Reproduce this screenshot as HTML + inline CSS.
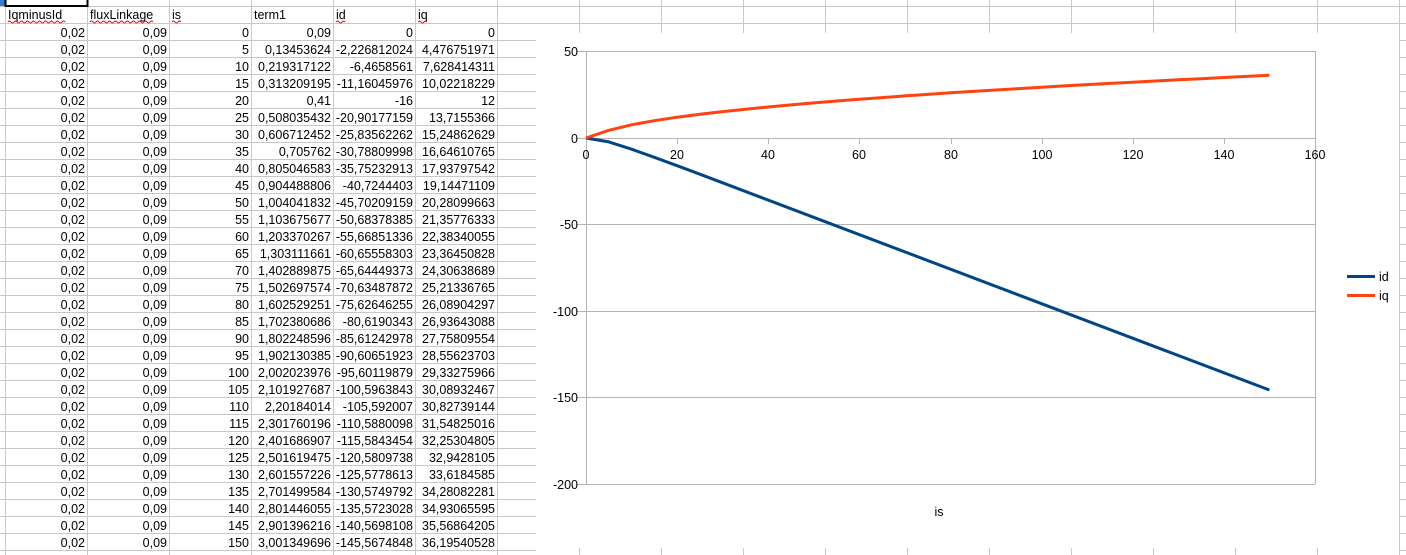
<!DOCTYPE html>
<html><head><meta charset="utf-8"><style>
html,body{margin:0;padding:0;background:#fff;width:1406px;height:555px;overflow:hidden}
svg{display:block;font-family:"Liberation Sans",sans-serif}
</style></head><body>
<svg width="1406" height="555" viewBox="0 0 1406 555" xmlns="http://www.w3.org/2000/svg">
<rect width="1406" height="555" fill="#fff"/>
<g stroke="#c8c8c8" stroke-width="1">
<path d="M0 6.5H1406M0 23.5H1406M0 40.5H536M0 57.5H536M0 74.5H536M0 91.5H536M0 108.5H536M0 125.5H536M0 142.5H536M0 159.5H536M0 176.5H536M0 193.5H536M0 210.5H536M0 227.5H536M0 244.5H536M0 261.5H536M0 278.5H536M0 295.5H536M0 312.5H536M0 329.5H536M0 346.5H536M0 363.5H536M0 380.5H536M0 397.5H536M0 414.5H536M0 431.5H536M0 448.5H536M0 465.5H536M0 482.5H536M0 499.5H536M0 516.5H536M0 533.5H536M0 550.5H536"/>
<path d="M5.5 0V555M87.5 0V555M169.5 0V555M251.5 0V555M333.5 0V555M415.5 0V555M497.5 0V555M579.5 0V33M661.5 0V33M743.5 0V33M825.5 0V33M907.5 0V33M989.5 0V33M1071.5 0V33M1153.5 0V33M1235.5 0V33M1317.5 0V33M1399.5 0V555"/>
<path d="M579.5 548V555M661.5 548V555M743.5 548V555M825.5 548V555M907.5 548V555M989.5 548V555M1071.5 548V555M1153.5 548V555M1235.5 548V555M1317.5 548V555"/>
</g>
<rect x="0" y="0" width="5" height="6" fill="#3b78d8"/>
<rect x="5.5" y="-1" width="82" height="7" fill="none" stroke="#000" stroke-width="2"/>
<g font-size="12.5" fill="#000">
<text x="8" y="19">IqminusId</text><text x="90" y="19">fluxLinkage</text><text x="172" y="19">is</text><text x="254" y="19">term1</text><text x="336" y="19">id</text><text x="418" y="19">iq</text>
</g>
<g stroke="#e00" stroke-width="1" fill="none">
<path d="M8 22 q1.5 -2 3 0 t3 0 t3 0 t3 0 t3 0 t3 0 t3 0 t3 0 t3 0 t3 0 t3 0 t3 0 t3 0 t3 0 t3 0 t3 0 t3 0 t3 0 t3 0"/>
<path d="M90 22 q1.5 -2 3 0 t3 0 t3 0 t3 0 t3 0 t3 0 t3 0 t3 0 t3 0 t3 0 t3 0 t3 0 t3 0 t3 0 t3 0 t3 0 t3 0 t3 0 t3 0 t3 0 t3 0"/>
<path d="M172 22 q1.5 -2 3 0 t3 0 t3 0"/>
<path d="M336 22 q1.5 -2 3 0 t3 0 t3 0"/>
<path d="M418 22 q1.5 -2 3 0 t3 0 t3 0"/>
</g>
<g font-size="12.5" fill="#000" text-anchor="end">
<g transform="translate(0,37)"><text x="85">0,02</text><text x="167">0,09</text><text x="249">0</text><text x="331">0,09</text><text x="413">0</text><text x="495">0</text></g>
<g transform="translate(0,54)"><text x="85">0,02</text><text x="167">0,09</text><text x="249">5</text><text x="331">0,13453624</text><text x="413">-2,226812024</text><text x="495">4,476751971</text></g>
<g transform="translate(0,71)"><text x="85">0,02</text><text x="167">0,09</text><text x="249">10</text><text x="331">0,219317122</text><text x="413">-6,4658561</text><text x="495">7,628414311</text></g>
<g transform="translate(0,88)"><text x="85">0,02</text><text x="167">0,09</text><text x="249">15</text><text x="331">0,313209195</text><text x="413">-11,16045976</text><text x="495">10,02218229</text></g>
<g transform="translate(0,105)"><text x="85">0,02</text><text x="167">0,09</text><text x="249">20</text><text x="331">0,41</text><text x="413">-16</text><text x="495">12</text></g>
<g transform="translate(0,122)"><text x="85">0,02</text><text x="167">0,09</text><text x="249">25</text><text x="331">0,508035432</text><text x="413">-20,90177159</text><text x="495">13,7155366</text></g>
<g transform="translate(0,139)"><text x="85">0,02</text><text x="167">0,09</text><text x="249">30</text><text x="331">0,606712452</text><text x="413">-25,83562262</text><text x="495">15,24862629</text></g>
<g transform="translate(0,156)"><text x="85">0,02</text><text x="167">0,09</text><text x="249">35</text><text x="331">0,705762</text><text x="413">-30,78809998</text><text x="495">16,64610765</text></g>
<g transform="translate(0,173)"><text x="85">0,02</text><text x="167">0,09</text><text x="249">40</text><text x="331">0,805046583</text><text x="413">-35,75232913</text><text x="495">17,93797542</text></g>
<g transform="translate(0,190)"><text x="85">0,02</text><text x="167">0,09</text><text x="249">45</text><text x="331">0,904488806</text><text x="413">-40,7244403</text><text x="495">19,14471109</text></g>
<g transform="translate(0,207)"><text x="85">0,02</text><text x="167">0,09</text><text x="249">50</text><text x="331">1,004041832</text><text x="413">-45,70209159</text><text x="495">20,28099663</text></g>
<g transform="translate(0,224)"><text x="85">0,02</text><text x="167">0,09</text><text x="249">55</text><text x="331">1,103675677</text><text x="413">-50,68378385</text><text x="495">21,35776333</text></g>
<g transform="translate(0,241)"><text x="85">0,02</text><text x="167">0,09</text><text x="249">60</text><text x="331">1,203370267</text><text x="413">-55,66851336</text><text x="495">22,38340055</text></g>
<g transform="translate(0,258)"><text x="85">0,02</text><text x="167">0,09</text><text x="249">65</text><text x="331">1,303111661</text><text x="413">-60,65558303</text><text x="495">23,36450828</text></g>
<g transform="translate(0,275)"><text x="85">0,02</text><text x="167">0,09</text><text x="249">70</text><text x="331">1,402889875</text><text x="413">-65,64449373</text><text x="495">24,30638689</text></g>
<g transform="translate(0,292)"><text x="85">0,02</text><text x="167">0,09</text><text x="249">75</text><text x="331">1,502697574</text><text x="413">-70,63487872</text><text x="495">25,21336765</text></g>
<g transform="translate(0,309)"><text x="85">0,02</text><text x="167">0,09</text><text x="249">80</text><text x="331">1,602529251</text><text x="413">-75,62646255</text><text x="495">26,08904297</text></g>
<g transform="translate(0,326)"><text x="85">0,02</text><text x="167">0,09</text><text x="249">85</text><text x="331">1,702380686</text><text x="413">-80,6190343</text><text x="495">26,93643088</text></g>
<g transform="translate(0,343)"><text x="85">0,02</text><text x="167">0,09</text><text x="249">90</text><text x="331">1,802248596</text><text x="413">-85,61242978</text><text x="495">27,75809554</text></g>
<g transform="translate(0,360)"><text x="85">0,02</text><text x="167">0,09</text><text x="249">95</text><text x="331">1,902130385</text><text x="413">-90,60651923</text><text x="495">28,55623703</text></g>
<g transform="translate(0,377)"><text x="85">0,02</text><text x="167">0,09</text><text x="249">100</text><text x="331">2,002023976</text><text x="413">-95,60119879</text><text x="495">29,33275966</text></g>
<g transform="translate(0,394)"><text x="85">0,02</text><text x="167">0,09</text><text x="249">105</text><text x="331">2,101927687</text><text x="413">-100,5963843</text><text x="495">30,08932467</text></g>
<g transform="translate(0,411)"><text x="85">0,02</text><text x="167">0,09</text><text x="249">110</text><text x="331">2,20184014</text><text x="413">-105,592007</text><text x="495">30,82739144</text></g>
<g transform="translate(0,428)"><text x="85">0,02</text><text x="167">0,09</text><text x="249">115</text><text x="331">2,301760196</text><text x="413">-110,5880098</text><text x="495">31,54825016</text></g>
<g transform="translate(0,445)"><text x="85">0,02</text><text x="167">0,09</text><text x="249">120</text><text x="331">2,401686907</text><text x="413">-115,5843454</text><text x="495">32,25304805</text></g>
<g transform="translate(0,462)"><text x="85">0,02</text><text x="167">0,09</text><text x="249">125</text><text x="331">2,501619475</text><text x="413">-120,5809738</text><text x="495">32,9428105</text></g>
<g transform="translate(0,479)"><text x="85">0,02</text><text x="167">0,09</text><text x="249">130</text><text x="331">2,601557226</text><text x="413">-125,5778613</text><text x="495">33,6184585</text></g>
<g transform="translate(0,496)"><text x="85">0,02</text><text x="167">0,09</text><text x="249">135</text><text x="331">2,701499584</text><text x="413">-130,5749792</text><text x="495">34,28082281</text></g>
<g transform="translate(0,513)"><text x="85">0,02</text><text x="167">0,09</text><text x="249">140</text><text x="331">2,801446055</text><text x="413">-135,5723028</text><text x="495">34,93065595</text></g>
<g transform="translate(0,530)"><text x="85">0,02</text><text x="167">0,09</text><text x="249">145</text><text x="331">2,901396216</text><text x="413">-140,5698108</text><text x="495">35,56864205</text></g>
<g transform="translate(0,547)"><text x="85">0,02</text><text x="167">0,09</text><text x="249">150</text><text x="331">3,001349696</text><text x="413">-145,5674848</text><text x="495">36,19540528</text></g>
</g>
<g stroke="#c8c8c8"><path d="M1400 40.5H1406M1400 57.5H1406M1400 74.5H1406M1400 91.5H1406M1400 108.5H1406M1400 125.5H1406M1400 142.5H1406M1400 159.5H1406M1400 176.5H1406M1400 193.5H1406M1400 210.5H1406M1400 227.5H1406M1400 244.5H1406M1400 261.5H1406M1400 278.5H1406M1400 295.5H1406M1400 312.5H1406M1400 329.5H1406M1400 346.5H1406M1400 363.5H1406M1400 380.5H1406M1400 397.5H1406M1400 414.5H1406M1400 431.5H1406M1400 448.5H1406M1400 465.5H1406M1400 482.5H1406M1400 499.5H1406M1400 516.5H1406M1400 533.5H1406M1400 550.5H1406"/></g>
<g stroke="#b3b3b3" stroke-width="1" fill="none">
<path d="M586 51.5H1315M586 224.5H1315M586 311.5H1315M586 397.5H1315M586 484.5H1315"/>
<path d="M586.5 51V484M1315.5 51V484"/>
<path d="M576 51.5H586M576 138.5H586M576 224.5H586M576 311.5H586M576 397.5H586M576 484.5H586"/>
<path d="M586 138.5H1315"/>
<path d="M586.5 138V144M677.5 138V144M768.5 138V144M859.5 138V144M951.5 138V144M1042.5 138V144M1133.5 138V144M1224.5 138V144M1315.5 138V144"/>
</g>
<g font-size="12.5" fill="#000" text-anchor="end">
<text x="578" y="56">50</text><text x="578" y="143">0</text><text x="578" y="229">-50</text><text x="578" y="316">-100</text><text x="578" y="402">-150</text><text x="578" y="489">-200</text>
</g>
<g font-size="12.5" fill="#000" text-anchor="middle">
<text x="586" y="159">0</text><text x="677" y="159">20</text><text x="768" y="159">40</text><text x="859" y="159">60</text><text x="951" y="159">80</text><text x="1042" y="159">100</text><text x="1133" y="159">120</text><text x="1224" y="159">140</text><text x="1315" y="159">160</text>
<text x="939" y="516">is</text>
</g>
<polyline fill="none" stroke="#004586" stroke-width="3" stroke-linejoin="round" points="586,138 608.8,141.9 631.6,149.2 654.3,157.3 677.1,165.7 699.9,174.2 1269.4,390"/>
<polyline fill="none" stroke="#ff420e" stroke-width="3" stroke-linejoin="round" points="586,138 608.8,130.3 631.6,124.8 654.3,120.7 677.1,117.2 699.9,114.3 722.7,111.6 745.5,109.2 768.2,107 791,104.9 813.8,102.9 836.6,101 859.4,99.3 882.1,97.6 904.9,95.9 927.7,94.4 950.5,92.8 973.3,91.4 996,90 1018.8,88.6 1041.6,87.2 1064.4,85.9 1087.2,84.6 1109.9,83.4 1132.7,82.2 1155.5,81 1178.3,79.8 1201.1,78.7 1223.8,77.5 1246.6,76.4 1269.4,75.3"/>
<path d="M1347 276.5H1375" stroke="#004586" stroke-width="3"/>
<path d="M1347 295.5H1375" stroke="#ff420e" stroke-width="3"/>
<g font-size="12.5" fill="#000"><text x="1379" y="281">id</text><text x="1379" y="300">iq</text></g>
</svg>
</body></html>
